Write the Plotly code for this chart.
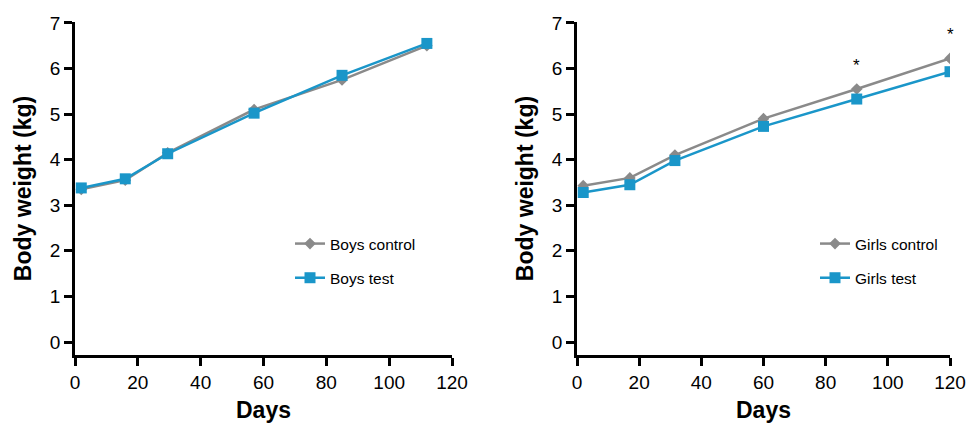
import plotly.graph_objects as go

boys_days = [2, 16, 29.5, 57, 85, 112]
boys_control = [3.35, 3.55, 4.15, 5.10, 5.75, 6.50]
boys_test = [3.38, 3.58, 4.13, 5.02, 5.85, 6.55]

girls_days = [2, 17, 31.5, 60, 90, 120]
girls_control = [3.43, 3.60, 4.10, 4.90, 5.55, 6.22]
girls_test = [3.28, 3.45, 3.98, 4.73, 5.33, 5.93]

sig_days = [90, 120]
sig_values = [5.55, 6.22]

x_ticks = [0, 20, 40, 60, 80, 100, 120]
y_ticks = [0, 1, 2, 3, 4, 5, 6, 7]

GRAY = "#8a8a8a"
BLUE = "#1a96c9"
FONT = "Liberation Sans, Arial, sans-serif"

fig = go.Figure()

def add_pair(days, ctrl, test, names, xa, ya, legend):
    fig.add_trace(go.Scatter(x=days, y=ctrl, mode="lines+markers", name=names[0],
                             line=dict(color=GRAY, width=2.5),
                             marker=dict(symbol="diamond", size=9, color=GRAY),
                             xaxis=xa, yaxis=ya, legend=legend, legendgroup=names[0]))
    fig.add_trace(go.Scatter(x=days, y=test, mode="lines+markers", name=names[1],
                             line=dict(color=BLUE, width=2.5),
                             marker=dict(symbol="square", size=11, color=BLUE),
                             xaxis=xa, yaxis=ya, legend=legend, legendgroup=names[1]))

add_pair(boys_days, boys_control, boys_test, ["Boys control", "Boys test"], "x", "y", "legend")
add_pair(girls_days, girls_control, girls_test, ["Girls control", "Girls test"], "x2", "y2", "legend2")

for d, v in zip(sig_days, sig_values):
    fig.add_annotation(x=d, y=v, xref="x2", yref="y2", text="*", showarrow=False,
                       yshift=24, font=dict(size=17, color="black", family=FONT))

ydom = [1 - 355 / 423, 1 - 22 / 423]
axis_common = dict(showline=True, linecolor="black", linewidth=2.5, ticks="outside",
                   ticklen=8, tickwidth=2.5, tickcolor="black", showgrid=False, zeroline=False,
                   automargin=False,
                   tickfont=dict(size=19, color="black", family=FONT))

xaxis_cfg = dict(axis_common, range=[0, 120], tickvals=x_ticks,
                 title=dict(text="<b>Days</b>", font=dict(size=23, color="black", family=FONT), standoff=17))
yaxis_cfg = dict(axis_common, range=[-0.285, 7.02], tickvals=y_ticks,
                 title=dict(text="<b>Body weight (kg)</b>", font=dict(size=23, color="black", family=FONT), standoff=12))

fig.update_layout(
    width=967, height=423,
    margin=dict(l=0, r=0, t=0, b=0, autoexpand=False),
    paper_bgcolor="white", plot_bgcolor="white",
    showlegend=True,
    xaxis=dict(xaxis_cfg, domain=[75 / 967, 452 / 967], anchor="y"),
    yaxis=dict(yaxis_cfg, domain=ydom, anchor="x"),
    xaxis2=dict(xaxis_cfg, domain=[577 / 967, 950 / 967], anchor="y2"),
    yaxis2=dict(yaxis_cfg, domain=ydom, anchor="x2"),
    legend=dict(x=290 / 967, y=1 - 227 / 423, xanchor="left", yanchor="top",
                font=dict(size=15.5, color="black", family=FONT), bgcolor="rgba(0,0,0,0)",
                tracegroupgap=11, itemwidth=30),
    legend2=dict(x=815 / 967, y=1 - 227 / 423, xanchor="left", yanchor="top",
                 font=dict(size=15.5, color="black", family=FONT), bgcolor="rgba(0,0,0,0)",
                 tracegroupgap=11, itemwidth=30),
)

fig.write_html("out.html", config={"displayModeBar": False},
               post_script="document.body.style.margin='0';document.body.style.overflow='hidden';")
